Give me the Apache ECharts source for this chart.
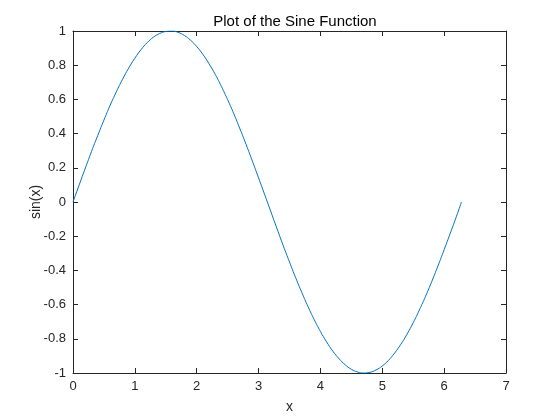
<!DOCTYPE html>
<html>
<head>
<meta charset="utf-8">
<script src="https://cdn.jsdelivr.net/npm/echarts@6/dist/echarts.min.js"></script>
<style>html,body{margin:0;padding:0;background:#fff}#c{width:560px;height:420px}</style>
</head>
<body>
<div id="c"></div>
<script>
var xValues = [0,0.1,0.2,0.3,0.4,0.5,0.6,0.7,0.8,0.9,1.0,1.1,1.2,1.3,1.4,1.5,1.6,1.7,1.8,1.9,2.0,2.1,2.2,2.3,2.4,2.5,2.6,2.7,2.8,2.9,3.0,3.1,3.2,3.3,3.4,3.5,3.6,3.7,3.8,3.9,4.0,4.1,4.2,4.3,4.4,4.5,4.6,4.7,4.8,4.9,5.0,5.1,5.2,5.3,5.4,5.5,5.6,5.7,5.8,5.9,6.0,6.1,6.2,6.28];
var sinValues = [0,0.100,0.199,0.296,0.389,0.479,0.565,0.644,0.717,0.783,0.841,0.891,0.932,0.964,0.985,0.997,1.000,0.992,0.974,0.946,0.909,0.863,0.808,0.746,0.675,0.598,0.516,0.427,0.335,0.239,0.141,0.042,-0.058,-0.158,-0.256,-0.351,-0.443,-0.530,-0.612,-0.688,-0.757,-0.818,-0.872,-0.916,-0.952,-0.978,-0.994,-1.000,-0.996,-0.982,-0.959,-0.926,-0.883,-0.832,-0.773,-0.706,-0.631,-0.551,-0.465,-0.374,-0.279,-0.182,-0.083,0.000];
var titleText = 'Plot of the Sine Function';
var xName = 'x';
var yName = 'sin(x)';

var pts = xValues.map(function(x,i){return [x, sinValues[i]];});
var font = 'Liberation Sans, Arial, sans-serif';
var axisCol = '#262626';
function mk(pos, show, extra){
  var o = {
    type:'value', position:pos,
    axisLine:{show:true, onZero:false, lineStyle:{color:axisCol, width:1}},
    axisTick:{show:true, inside:true, length:5, lineStyle:{color:axisCol}},
    axisLabel:{show:show, color:axisCol, fontFamily:font, fontSize:13, margin:7},
    splitLine:{show:false}
  };
  for (var k in extra) o[k]=extra[k];
  return o;
}
var chart = echarts.init(document.getElementById('c'));
chart.setOption({
  animation:false,
  title:{text:titleText, left:290, top:9, textAlign:'center', textStyle:{fontFamily:font, fontSize:15, fontWeight:'normal', color:'#000'}},
  grid:{left:73, right:54, top:31, bottom:47},
  xAxis:[
    mk('bottom', true, {min:0, max:7, interval:1, name:xName, nameLocation:'middle', nameGap:27, nameMoveOverlap:false, nameTextStyle:{fontFamily:font, fontSize:14, color:axisCol}}),
    mk('top', false, {min:0, max:7, interval:1})
  ],
  yAxis:[
    mk('left', true, {min:-1, max:1, interval:0.2, name:yName, nameLocation:'middle', nameGap:30, nameMoveOverlap:false, nameTextStyle:{fontFamily:font, fontSize:14, color:axisCol},
      axisLabel:{show:true, color:axisCol, fontFamily:font, fontSize:13, margin:7, formatter:function(v){return String(Math.round(v*10)/10);}}}),
    mk('right', false, {min:-1, max:1, interval:0.2})
  ],
  series:[{type:'line', data:pts, showSymbol:false, smooth:true, lineStyle:{color:'#0072BD', width:1}, xAxisIndex:0, yAxisIndex:0}]
});
</script>
</body>
</html>
